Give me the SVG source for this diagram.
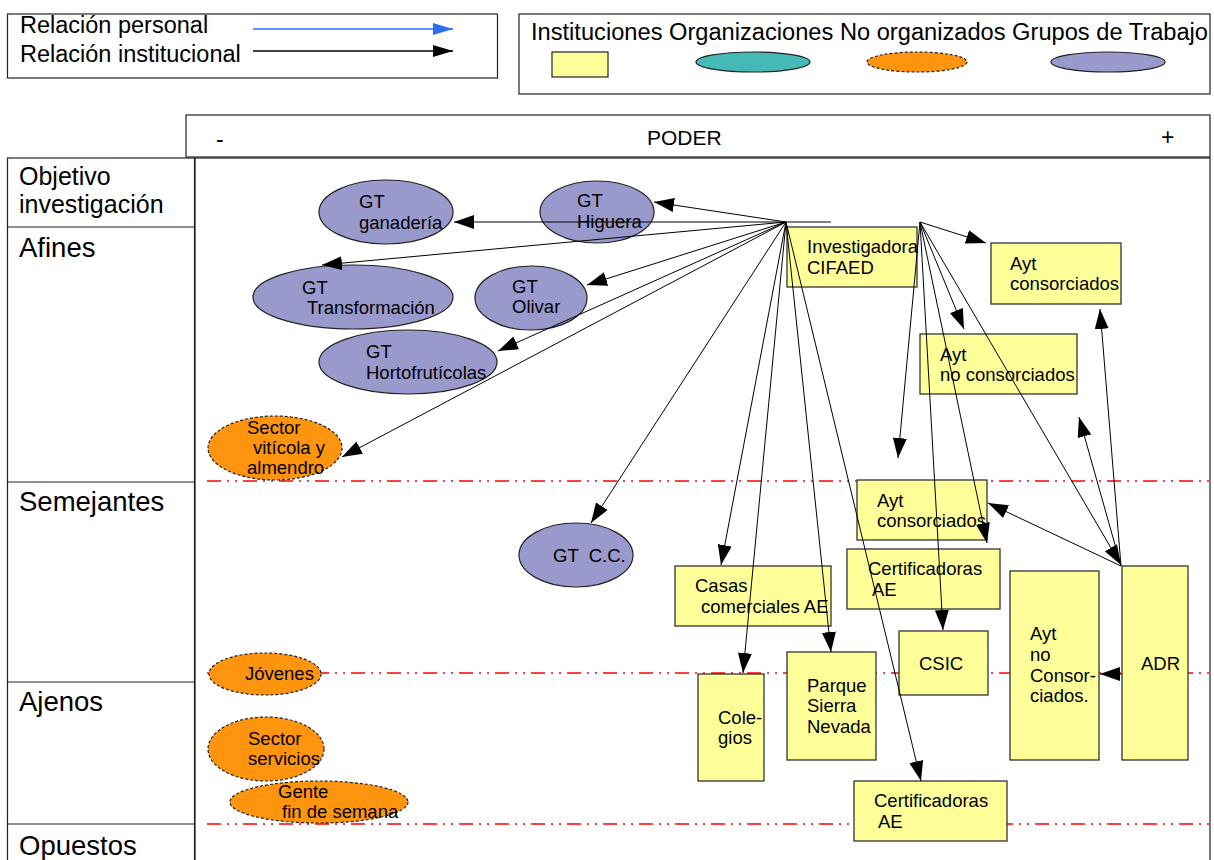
<svg xmlns="http://www.w3.org/2000/svg" width="1214" height="860" viewBox="0 0 1214 860">
<defs>
<marker id="ah" markerUnits="userSpaceOnUse" markerWidth="20" markerHeight="14" refX="20" refY="7" orient="auto"><path d="M0,0 L20,7 L0,14 z" fill="#000"/></marker>
<marker id="ahb" markerUnits="userSpaceOnUse" markerWidth="20" markerHeight="12" refX="20" refY="6" orient="auto"><path d="M0,0 L20,6 L0,12 z" fill="#2a6ef5"/></marker>
<marker id="ahk" markerUnits="userSpaceOnUse" markerWidth="20" markerHeight="12" refX="20" refY="6" orient="auto"><path d="M0,0 L20,6 L0,12 z" fill="#000"/></marker>
</defs>
<style>
text{font-family:"Liberation Sans",Arial,sans-serif;fill:#000}
.frame{fill:#fff;stroke:#222;stroke-width:1.2}
.inst{fill:#ffff99;stroke:#333;stroke-width:1.3}
.gt{fill:#9999cc;stroke:#222;stroke-width:1.2}
.org{fill:#45b8b8;stroke:#222;stroke-width:1.2}
.no{fill:#ff950e;stroke:#222;stroke-width:1.2;stroke-dasharray:3 2}
.red{stroke:#ff0000;stroke-width:1.6;stroke-dasharray:14 6 2 6 2 6;fill:none}
.c line{stroke:#000;stroke-width:1;marker-end:url(#ah)}
.n{font-size:18.5px}
.lg{font-size:23.5px}
.row{font-size:27.5px}
.pre{white-space:pre}
</style>
<rect width="1214" height="860" fill="#fff"/>

<g id="legend-relaciones">
<rect class="frame" x="7.5" y="14" width="490" height="64"/>
<text class="lg" x="20" y="33">Relación personal</text>
<text class="lg" x="20" y="62">Relación institucional</text>
<line x1="253" y1="29" x2="453" y2="29" stroke="#2a6ef5" stroke-width="1.3" marker-end="url(#ahb)"/>
<line x1="253" y1="51" x2="453" y2="51" stroke="#000" stroke-width="1.3" marker-end="url(#ahk)"/>
</g>

<g id="legend-tipos">
<rect class="frame" x="519" y="14" width="691" height="80"/>
<text class="lg" x="531" y="40" textLength="677" lengthAdjust="spacingAndGlyphs">Instituciones Organizaciones No organizados Grupos de Trabajo</text>
<rect class="inst" x="552" y="52" width="56" height="25"/>
<ellipse class="org" cx="753" cy="62" rx="57" ry="10"/>
<ellipse class="no" cx="917" cy="62" rx="50" ry="10"/>
<ellipse class="gt" cx="1108" cy="62" rx="57" ry="10"/>
</g>

<g id="eje-poder">
<rect class="frame" x="186" y="115" width="1024" height="42"/>
<text x="216" y="147" font-size="23">-</text>
<text x="647" y="145" font-size="21">PODER</text>
<text x="1161" y="145" font-size="23">+</text>
</g>

<g id="tabla">
<rect class="frame" x="195" y="158" width="1015" height="712"/>
<rect class="frame" x="7.5" y="158" width="187" height="712"/>
<line x1="7.5" y1="227" x2="195" y2="227" stroke="#222" stroke-width="1.2"/>
<line x1="7.5" y1="482" x2="195" y2="482" stroke="#222" stroke-width="1.2"/>
<line x1="7.5" y1="682" x2="195" y2="682" stroke="#222" stroke-width="1.2"/>
<line x1="7.5" y1="824" x2="195" y2="824" stroke="#222" stroke-width="1.2"/>
<text x="19" y="185" font-size="25">Objetivo</text>
<text x="19" y="213" font-size="25">investigación</text>
<text class="row" x="19" y="257">Afines</text>
<text class="row" x="19" y="511">Semejantes</text>
<text class="row" x="19" y="711">Ajenos</text>
<text class="row" x="19" y="855">Opuestos</text>
<line class="red" x1="207" y1="481" x2="1210" y2="481"/>
<line class="red" x1="207" y1="673" x2="1210" y2="673"/>
<line class="red" x1="207" y1="824" x2="1210" y2="824"/>
</g>

<g id="gt-ganaderia"><ellipse class="gt" cx="386" cy="212" rx="67" ry="32"/><text class="n" x="359" y="208">GT</text><text class="n" x="359" y="229">ganadería</text></g>
<g id="gt-higuera"><ellipse class="gt" cx="597" cy="212" rx="57" ry="31"/><text class="n" x="577" y="207">GT</text><text class="n" x="577" y="228">Higuera</text></g>
<g id="gt-transformacion"><ellipse class="gt" cx="353" cy="297" rx="100" ry="32"/><text class="n" x="302" y="294">GT</text><text class="n" x="307" y="314">Transformación</text></g>
<g id="gt-olivar"><ellipse class="gt" cx="531" cy="298" rx="56" ry="32"/><text class="n" x="512" y="293">GT</text><text class="n" x="512" y="313">Olivar</text></g>
<g id="gt-hortofruticolas"><ellipse class="gt" cx="408" cy="362" rx="89" ry="32"/><text class="n" x="366" y="358">GT</text><text class="n" x="366" y="379">Hortofrutícolas</text></g>
<g id="sector-viticola"><ellipse class="no" cx="275" cy="448" rx="67" ry="32"/><text class="n" x="247" y="434">Sector</text><text class="n" x="253" y="454">vitícola y</text><text class="n" x="247" y="474">almendro</text></g>
<g id="gt-cc"><ellipse class="gt" cx="576" cy="555" rx="57" ry="32"/><text class="n pre" x="553" y="562" xml:space="preserve">GT  C.C.</text></g>
<g id="jovenes"><ellipse class="no" cx="265" cy="674" rx="56" ry="21"/><text class="n" x="245" y="680">Jóvenes</text></g>
<g id="sector-servicios"><ellipse class="no" cx="266" cy="749" rx="58" ry="32"/><text class="n" x="248" y="745">Sector</text><text class="n" x="248" y="765">servicios</text></g>
<g id="gente-fin-semana"><ellipse class="no" cx="319" cy="802" rx="89" ry="21"/><text class="n" x="278" y="798">Gente</text><text class="n" x="282" y="818">fin de semana</text></g>

<g id="investigadora"><rect class="inst" x="787" y="227" width="130" height="60"/><text class="n" x="807" y="253">Investigadora</text><text class="n" x="807" y="274">CIFAED</text></g>
<g id="ayt-consorciados-afines"><rect class="inst" x="991" y="243" width="130" height="61"/><text class="n" x="1010" y="270">Ayt</text><text class="n" x="1010" y="290">consorciados</text></g>
<g id="ayt-no-consorciados-afines"><rect class="inst" x="920" y="334" width="157" height="60"/><text class="n" x="940" y="361">Ayt</text><text class="n" x="940" y="381">no consorciados</text></g>
<g id="ayt-consorciados-semejantes"><rect class="inst" x="857" y="480" width="130" height="60"/><text class="n" x="877" y="507">Ayt</text><text class="n" x="877" y="527">consorciados</text></g>
<g id="certificadoras-1"><rect class="inst" x="847" y="549" width="153" height="60"/><text class="n" x="868" y="575">Certificadoras</text><text class="n" x="872" y="596">AE</text></g>
<g id="casas-comerciales"><rect class="inst" x="675" y="566" width="156" height="60"/><text class="n" x="695" y="592">Casas</text><text class="n" x="701" y="613">comerciales AE</text></g>
<g id="csic"><rect class="inst" x="899" y="631" width="89" height="64"/><text class="n" x="919" y="670">CSIC</text></g>
<g id="ayt-no-consorciados-ajenos"><rect class="inst" x="1010" y="571" width="89" height="189"/><text class="n" x="1030" y="640">Ayt</text><text class="n" x="1030" y="661">no</text><text class="n" x="1030" y="682">Consor-</text><text class="n" x="1030" y="702">ciados.</text></g>
<g id="adr"><rect class="inst" x="1122" y="566" width="66" height="194"/><text class="n" x="1141" y="670">ADR</text></g>
<g id="colegios"><rect class="inst" x="698" y="674" width="66" height="107"/><text class="n" x="718" y="724">Cole-</text><text class="n" x="718" y="744">gios</text></g>
<g id="parque-sierra-nevada"><rect class="inst" x="787" y="652" width="89" height="108"/><text class="n" x="807" y="692">Parque</text><text class="n" x="807" y="712">Sierra</text><text class="n" x="807" y="733">Nevada</text></g>
<g id="certificadoras-2"><rect class="inst" x="854" y="781" width="153" height="60"/><text class="n" x="874" y="807">Certificadoras</text><text class="n" x="878" y="828">AE</text></g>

<g id="connectors" class="c">
<line x1="831" y1="222" x2="454" y2="222"/>
<line x1="786" y1="222" x2="654" y2="202"/>
<line x1="786" y1="222" x2="322" y2="265"/>
<line x1="786" y1="222" x2="587" y2="285"/>
<line x1="786" y1="222" x2="498" y2="351"/>
<line x1="786" y1="222" x2="342" y2="457"/>
<line x1="786" y1="222" x2="591" y2="523"/>
<line x1="786" y1="222" x2="721" y2="565"/>
<line x1="786" y1="222" x2="743" y2="673"/>
<line x1="786" y1="222" x2="831" y2="652"/>
<line x1="786" y1="222" x2="921" y2="781"/>
<line x1="920" y1="222" x2="986" y2="243"/>
<line x1="920" y1="222" x2="964" y2="329"/>
<line x1="920" y1="222" x2="898" y2="458"/>
<line x1="920" y1="222" x2="987" y2="543"/>
<line x1="920" y1="222" x2="943" y2="630"/>
<line x1="920" y1="222" x2="1121" y2="565"/>
<line x1="1121" y1="566" x2="988" y2="503"/>
<line x1="1121" y1="566" x2="1079" y2="417"/>
<line x1="1121" y1="566" x2="1100" y2="309"/>
<line x1="1122" y1="674" x2="1100" y2="674"/>
</g>
</svg>
